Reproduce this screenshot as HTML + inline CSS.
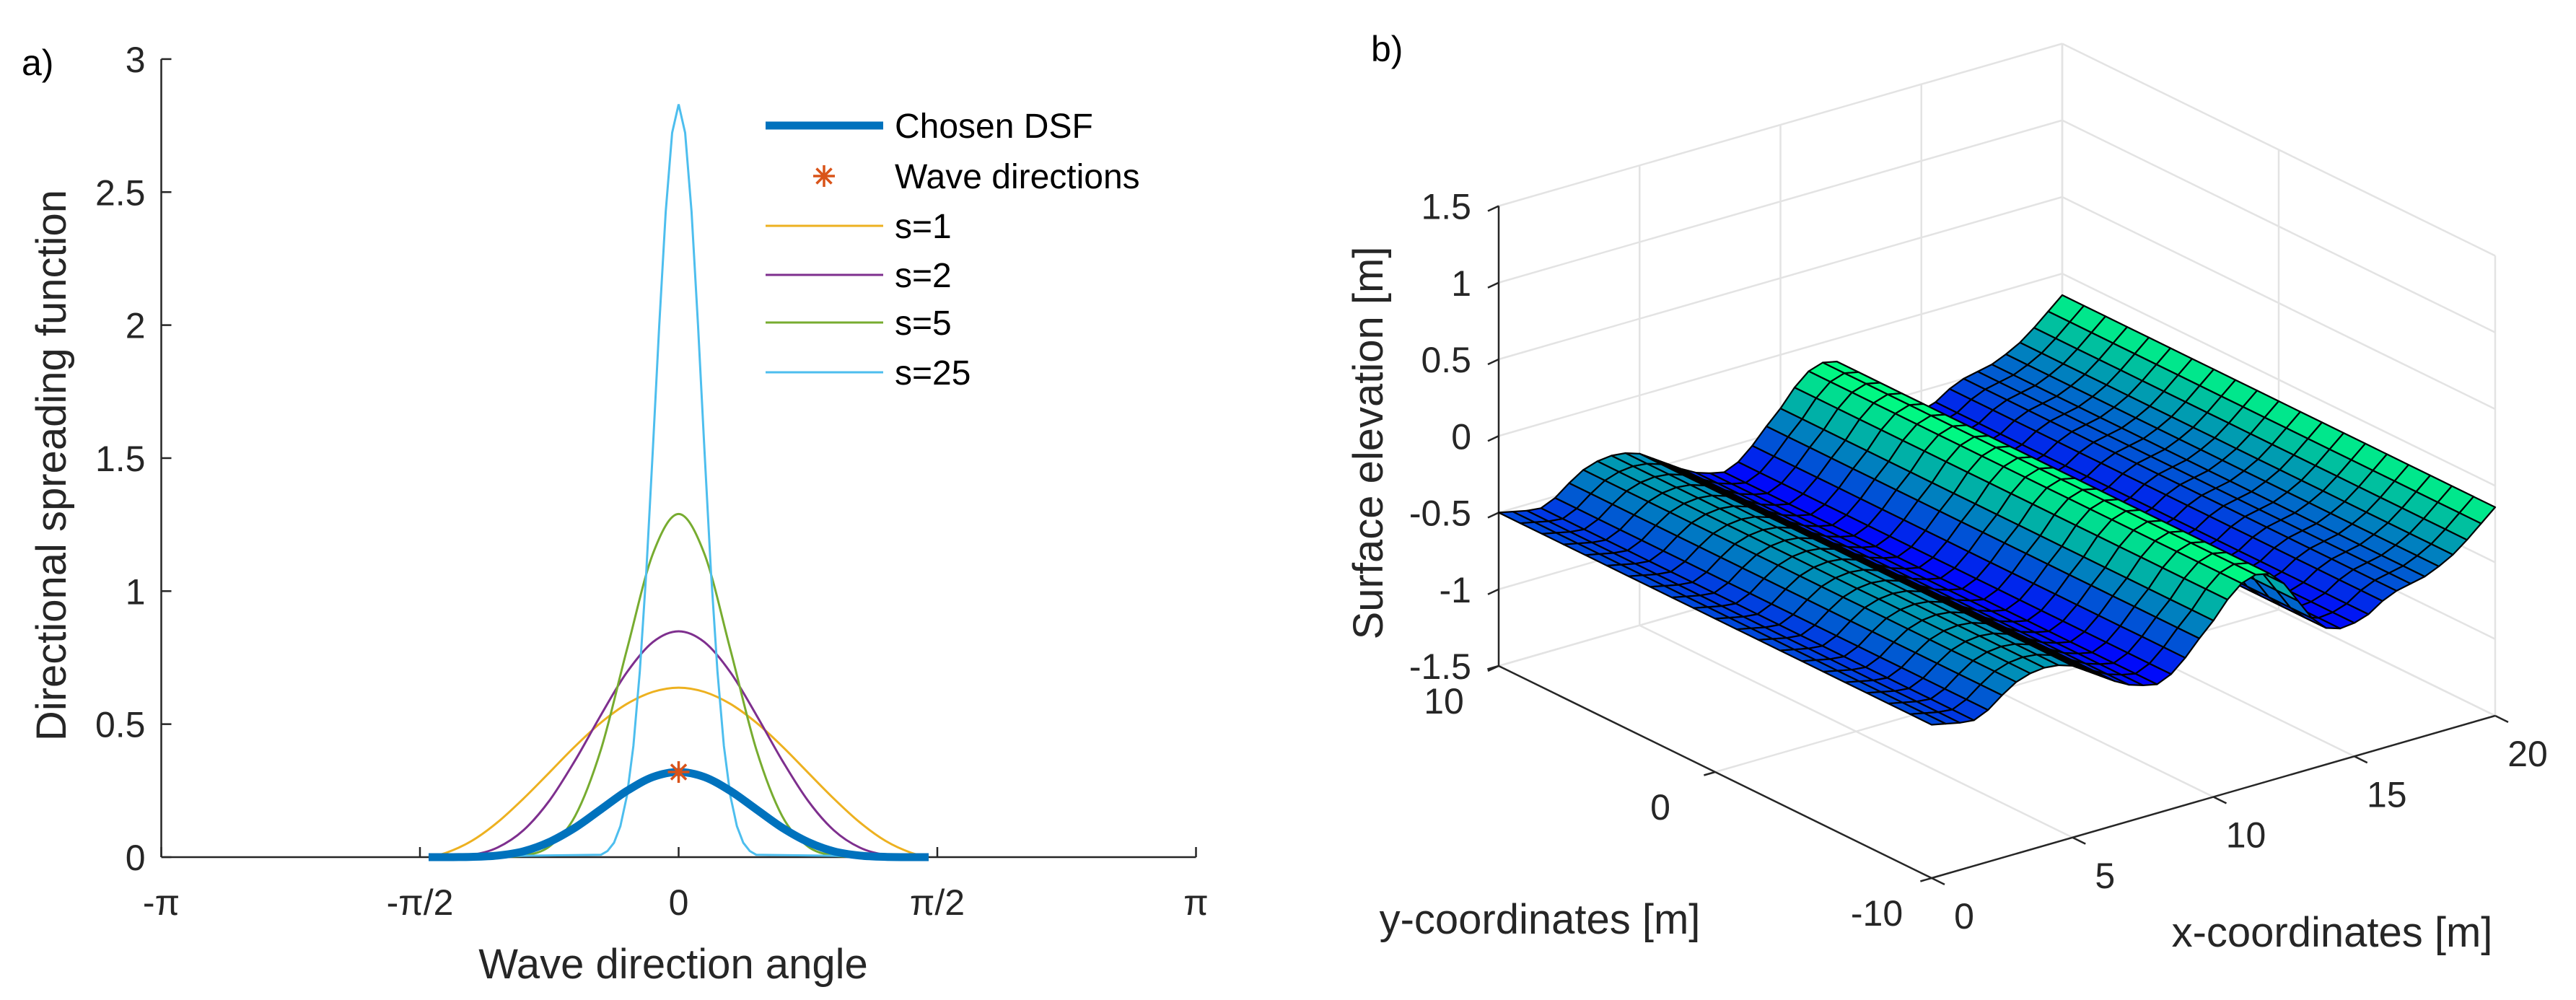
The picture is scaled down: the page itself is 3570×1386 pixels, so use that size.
<!DOCTYPE html>
<html><head><meta charset="utf-8"><style>
html,body{margin:0;padding:0;background:#fff;}
svg{display:block;font-family:"Liberation Sans",Arial,sans-serif;}
</style></head><body>
<svg id="fig" xmlns="http://www.w3.org/2000/svg" width="3570" height="1386" viewBox="0 0 3570 1386">
<rect x="0" y="0" width="3570" height="1386" fill="#fff"/>
<g id="left"></g>
<g id="right"></g>
</svg>
<script>
// ---------- Left chart data ----------
const angleDeg = [-87,-81,-72,-63,-54,-45,-36,-27,-18,-9,0,9,18,27,36,45,54,63,72,81,87];
const s1Vals = [0.002,0.016,0.061,0.131,0.220,0.318,0.417,0.506,0.576,0.621,0.637,0.621,0.576,0.506,0.417,0.318,0.220,0.131,0.061,0.016,0.002];
const s2Vals = [0,0.0005,0.008,0.036,0.101,0.212,0.364,0.535,0.695,0.808,0.849,0.808,0.695,0.535,0.364,0.212,0.101,0.036,0.008,0.0005,0];
const s5Vals = [0,0,0,0.0005,0.006,0.040,0.155,0.406,0.780,1.139,1.29,1.139,0.780,0.406,0.155,0.040,0.006,0.0005,0,0,0];
const chosenVals = [0,0,0.001,0.006,0.022,0.057,0.111,0.180,0.249,0.301,0.32,0.301,0.249,0.180,0.111,0.057,0.022,0.006,0.001,0,0];
const s25Angles = [-87,-27,-24.75,-22.5,-20.25,-18,-15.75,-13.5,-11.25,-9,-6.75,-4.5,-2.25,0,2.25,4.5,6.75,9,11.25,13.5,15.75,18,20.25,22.5,24.75,27,87];
const s25Vals = [0,0.009,0.023,0.054,0.117,0.230,0.418,0.698,1.073,1.524,1.998,2.426,2.723,2.83,2.723,2.426,1.998,1.524,1.073,0.698,0.418,0.230,0.117,0.054,0.023,0.009,0];
const starAngles = [0];
const starVals = [0.32];
const yTickVals = [0,0.5,1,1.5,2,2.5,3];
const yTickLabels = ["0","0.5","1","1.5","2","2.5","3"];
const xTickDeg = [-180,-90,0,90,180];
const xTickLabels = ["-π","-π/2","0","π/2","π"];
const legendLabels = ["Chosen DSF","Wave directions","s=1","s=2","s=5","s=25"];

// ---------- Right chart data ----------
const xGrid = [0,0.5,1,1.5,2,2.5,3,3.5,4,4.5,5,5.5,6,6.5,7,7.5,8,8.5,9,9.5,10,10.5,11,11.5,12,12.5,13,13.5,14,14.5,15,15.5,16,16.5,17,17.5,18,18.5,19,19.5,20];
const zProfile = [-0.50,-0.52,-0.54,-0.55,-0.51,-0.44,-0.38,-0.35,-0.34,-0.35,-0.38,-0.44,-0.50,-0.56,-0.61,-0.64,-0.66,-0.62,-0.54,-0.44,-0.35,-0.24,-0.16,-0.13,-0.15,-0.24,-0.38,-0.52,-0.61,-0.64,-0.63,-0.60,-0.54,-0.50,-0.48,-0.46,-0.42,-0.37,-0.30,-0.22,-0.14];
const yGrid = [-10,-9,-8,-7,-6,-5,-4,-3,-2,-1,0,1,2,3,4,5,6,7,8,9,10];
const zTickVals = [-1.5,-1,-0.5,0,0.5,1,1.5];
const zTickLabels = ["-1.5","-1","-0.5","0","0.5","1","1.5"];
const xTick3d = [0,5,10,15,20];
const yTick3d = [-10,0,10];

const NS = "http://www.w3.org/2000/svg";
function mk(parent, tag, attrs, text){
  const e = document.createElementNS(NS, tag);
  for (const k in attrs) e.setAttribute(k, attrs[k]);
  if (text !== undefined) e.textContent = text;
  parent.appendChild(e);
  return e;
}

// ---------- Left chart ----------
const L = document.getElementById('left');
const X0 = 940.5, HALF = 358.5, Y0 = 1188, YS = 368.7;
function ax(deg){ return X0 + deg/90*HALF; }
function ay(v){ return Y0 - v*YS; }

let e;
e = mk(L,'line',{x1:ax(-180),y1:ay(0),x2:ax(180),y2:ay(0),stroke:'#262626','stroke-width':2.5});


e = mk(L,'line',{x1:ax(-180),y1:ay(0),x2:ax(-180),y2:ay(3),stroke:'#262626','stroke-width':2.5});


yTickVals.forEach((v,i)=>{
  const t = mk(L,'line',{x1:ax(-180),y1:ay(v),x2:ax(-180)+14,y2:ay(v),stroke:'#262626','stroke-width':2.5});
  
  
  const lb = mk(L,'text',{x:ax(-180)-22,y:ay(v)+18,'text-anchor':'end','font-size':50,fill:'#262626'},yTickLabels[i]);
  
  
});
xTickDeg.forEach((d,i)=>{
  const t = mk(L,'line',{x1:ax(d),y1:ay(0),x2:ax(d),y2:ay(0)-14,stroke:'#262626','stroke-width':2.5});
  
  
  const lb = mk(L,'text',{x:ax(d),y:1268,'text-anchor':'middle','font-size':50,fill:'#262626'},xTickLabels[i]);
  
  
});
e = mk(L,'text',{x:933,y:1356,'text-anchor':'middle','font-size':58,fill:'#262626'},'Wave direction angle');


e = mk(L,'text',{x:0,y:0,'text-anchor':'middle','font-size':58,fill:'#262626',transform:'translate(91,645) rotate(-90)'},'Directional spreading function');


e = mk(L,'text',{x:30,y:104,'font-size':50,fill:'#000'},'a)');



function pts(angles, vals){ return angles.map((a,i)=>ax(a).toFixed(1)+','+ay(vals[i]).toFixed(1)).join(' '); }
function smoothPath(angles, vals){
  const p = angles.map((a,i)=>[ax(a), ay(vals[i])]);
  const base = ay(0);
  let d = 'M'+p[0][0].toFixed(1)+','+p[0][1].toFixed(1);
  for (let i=0;i<p.length-1;i++){
    const p0 = p[Math.max(i-1,0)], p1 = p[i], p2 = p[i+1], p3 = p[Math.min(i+2,p.length-1)];
    const c1 = [p1[0]+(p2[0]-p0[0])/6, Math.min(base, p1[1]+(p2[1]-p0[1])/6)];
    const c2 = [p2[0]-(p3[0]-p1[0])/6, Math.min(base, p2[1]-(p3[1]-p1[1])/6)];
    d += ' C'+c1[0].toFixed(1)+','+c1[1].toFixed(1)+' '+c2[0].toFixed(1)+','+c2[1].toFixed(1)+' '+p2[0].toFixed(1)+','+p2[1].toFixed(1);
  }
  return d;
}
e = mk(L,'path',{d:smoothPath(angleDeg,s1Vals),fill:'none',stroke:'#EDB120','stroke-width':3});


e = mk(L,'path',{d:smoothPath(angleDeg,s2Vals),fill:'none',stroke:'#7E2F8E','stroke-width':3});


e = mk(L,'path',{d:smoothPath(angleDeg,s5Vals),fill:'none',stroke:'#77AC30','stroke-width':3});


e = mk(L,'polyline',{points:pts(s25Angles,s25Vals),fill:'none',stroke:'#4DBEEE','stroke-width':3});


e = mk(L,'path',{d:smoothPath(angleDeg,chosenVals),fill:'none',stroke:'#0072BD','stroke-width':11,'stroke-linejoin':'round'});



function star(g, cx, cy, r){
  const s = mk(g,'g',{stroke:'#D95319','stroke-width':3.5});
  mk(s,'line',{x1:cx-r,y1:cy,x2:cx+r,y2:cy});
  mk(s,'line',{x1:cx,y1:cy-r,x2:cx,y2:cy+r});
  mk(s,'line',{x1:cx-r*0.7,y1:cy-r*0.7,x2:cx+r*0.7,y2:cy+r*0.7});
  mk(s,'line',{x1:cx-r*0.7,y1:cy+r*0.7,x2:cx+r*0.7,y2:cy-r*0.7});
  return s;
}
starAngles.forEach((a,i)=>{
  const s = star(L, ax(a), ay(starVals[i]), 15);
  
  
});

// legend
const legRows = [174,244,313,381,447,516];
const legColors = ['#0072BD',null,'#EDB120','#7E2F8E','#77AC30','#4DBEEE'];
const legWidths = [11,0,3,3,3,3];
legendLabels.forEach((lab,i)=>{
  const g = mk(L,'g',{});
  
  
  if (legColors[i]) mk(g,'line',{x1:1061,y1:legRows[i],x2:1224,y2:legRows[i],stroke:legColors[i],'stroke-width':legWidths[i]});
  else star(g,1142,legRows[i],15);
  mk(g,'text',{x:1240,y:legRows[i]+17,'font-size':48,fill:'#000'},lab);
});

// ---------- Right chart ----------
const R = document.getElementById('right');
function P(x,y,z){ return [2677 + 39.05*x - 30*(y+10), 1217 - 11.25*x - 14.7*(y+10) - 212.5*(z+1.5)]; }
function ln(g,a,b,attrs){ return mk(g,'line',Object.assign({x1:a[0],y1:a[1],x2:b[0],y2:b[1]},attrs)); }
const gridG = mk(R,'g',{stroke:'#e3e3e3','stroke-width':2.5});


zTickVals.forEach(z=>{ ln(gridG,P(0,10,z),P(20,10,z),{}); ln(gridG,P(20,10,z),P(20,-10,z),{}); });
xTick3d.forEach(x=>{ ln(gridG,P(x,10,-1.5),P(x,10,1.5),{}); ln(gridG,P(x,-10,-1.5),P(x,10,-1.5),{}); });
yTick3d.forEach(y=>{ ln(gridG,P(20,y,-1.5),P(20,y,1.5),{}); ln(gridG,P(0,y,-1.5),P(20,y,-1.5),{}); });

// axes
const axG = mk(R,'g',{stroke:'#262626','stroke-width':2.5});


ln(axG,P(0,10,-1.5),P(0,10,1.5),{});
ln(axG,P(0,10,-1.5),P(0,-10,-1.5),{});
ln(axG,P(0,-10,-1.5),P(20,-10,-1.5),{});
zTickVals.forEach((z,i)=>{
  const p = P(0,10,z);
  ln(axG,p,[p[0]-15,p[1]+7],{});
  const t = mk(R,'text',{x:p[0]-38,y:p[1]+18,'text-anchor':'end','font-size':50,fill:'#262626'},zTickLabels[i]);
  
  
});
yTick3d.forEach(y=>{
  const p = P(0,y,-1.5), q = P(0.4,y,-1.5);
  ln(axG,p,[2*p[0]-q[0],2*p[1]-q[1]],{});
  const t = mk(R,'text',{x:p[0]-76,y:p[1]+66,'text-anchor':'middle','font-size':50,fill:'#262626'},String(y));
  
  
});
xTick3d.forEach(x=>{
  const p = P(x,-10,-1.5), q = P(x,-9.4,-1.5);
  ln(axG,p,[2*p[0]-q[0],2*p[1]-q[1]],{});
  const t = mk(R,'text',{x:p[0]+45,y:p[1]+70,'text-anchor':'middle','font-size':50,fill:'#262626'},String(x));
  
  
});
e = mk(R,'text',{x:2134,y:1294,'text-anchor':'middle','font-size':58,fill:'#262626'},'y-coordinates [m]');


e = mk(R,'text',{x:3232,y:1312,'text-anchor':'middle','font-size':58,fill:'#262626'},'x-coordinates [m]');


e = mk(R,'text',{x:0,y:0,'text-anchor':'middle','font-size':58,fill:'#262626',transform:'translate(1916,614) rotate(-90)'},'Surface elevation [m]');


e = mk(R,'text',{x:1900,y:85,'font-size':50,fill:'#000'},'b)');



// surface
const surfG = mk(R,'g',{stroke:'#000','stroke-width':2.2,'stroke-linejoin':'round'});


const zmin = Math.min(...zProfile), zmax = Math.max(...zProfile);
const cells = [];
for (let i=0;i<xGrid.length-1;i++){
  for (let j=0;j<yGrid.length-1;j++){
    const xa=xGrid[i], xb=xGrid[i+1], ya=yGrid[j], yb=yGrid[j+1];
    const za=zProfile[i], zb=zProfile[i+1];
    const depth = 600*((xa+xb)/40) + 781*(((ya+yb)/2+10)/20);
    cells.push({xa,xb,ya,yb,za,zb,depth});
  }
}
cells.sort((a,b)=>b.depth-a.depth);
cells.forEach(c=>{
  const p = [P(c.xa,c.ya,c.za),P(c.xb,c.ya,c.zb),P(c.xb,c.yb,c.zb),P(c.xa,c.yb,c.za)];
  const t = ((c.za+c.zb)/2 - zmin)/(zmax-zmin);
  const col = 'rgb(0,'+Math.round(255*t)+','+Math.round(255*(1-0.5*t))+')';
  const poly = mk(surfG,'polygon',{points:p.map(q=>q[0].toFixed(1)+','+q[1].toFixed(1)).join(' '),fill:col});
  
  
});
</script>
</body></html>
